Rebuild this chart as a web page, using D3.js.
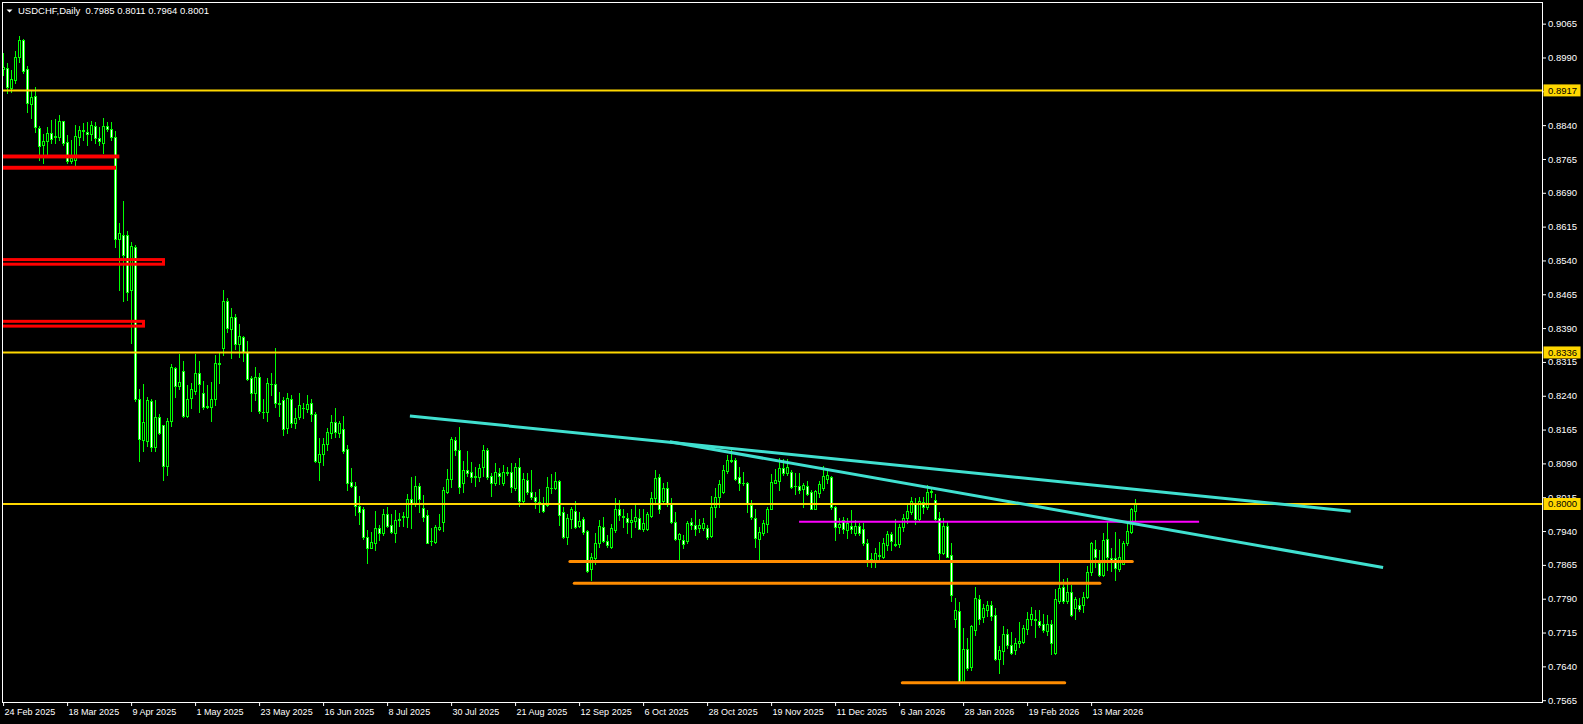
<!DOCTYPE html>
<html><head><meta charset="utf-8">
<script src="https://cdn.jsdelivr.net/npm/d3@7"></script>
<style>
html,body{margin:0;padding:0;background:#000;overflow:hidden}
svg{display:block}
text{font-family:"Liberation Sans",Arial,sans-serif;font-size:9px}
</style></head><body>
<svg id="c" width="1583" height="724"></svg>
<script>
// ---------- DATA ----------
const symbolTitle = "USDCHF,Daily";
const lastOHLC = ["0.7985", "0.8011", "0.7964", "0.8001"];

const open = [0.8965,0.8967,0.8923,0.8939,0.8991,0.9029,0.8964,0.8887,0.8905,0.8833,
0.8795,0.8804,0.8822,0.8813,0.8813,0.8849,0.8802,0.8761,0.8763,0.8814,
0.8829,0.8825,0.8820,0.8838,0.8812,0.8800,0.8838,0.8832,0.8814,0.8587,
0.8597,0.8597,0.8475,0.8569,0.8233,0.8142,0.8140,0.8228,0.8127,0.8192,
0.8175,0.8085,0.8183,0.8301,0.8262,0.8294,0.8194,0.8234,0.8251,0.8290,
0.8246,0.8217,0.8214,0.8232,0.8312,0.8345,0.8449,0.8387,0.8414,0.8354,
0.8371,0.8338,0.8279,0.8247,0.8282,0.8205,0.8205,0.8266,0.8266,0.8223,
0.8231,0.8168,0.8232,0.8179,0.8192,0.8213,0.8211,0.8223,0.8200,0.8094,
0.8111,0.8132,0.8157,0.8181,0.8158,0.8166,0.8121,0.8049,0.8041,0.7996,
0.7988,0.7926,0.7903,0.7914,0.7946,0.7935,0.7977,0.7953,0.7935,0.7965,
0.7972,0.7972,0.8010,0.8002,0.8040,0.7992,0.7976,0.7918,0.7916,0.7945,
0.7959,0.8027,0.8055,0.8142,0.8120,0.8047,0.8075,0.8070,0.8061,0.8059,
0.8083,0.8120,0.8062,0.8047,0.8069,0.8046,0.8071,0.8072,0.8035,0.8081,
0.8007,0.8053,0.8027,0.8016,0.8005,0.8000,0.7997,0.8036,0.8035,0.8051,
0.7983,0.7926,0.7966,0.7985,0.7951,0.7966,0.7940,0.7855,0.7881,0.7914,
0.7948,0.7919,0.7905,0.7942,0.7990,0.7974,0.7970,0.7959,0.7963,0.7970,
0.7944,0.7944,0.7973,0.8013,0.8059,0.8007,0.8035,0.8003,0.7959,0.7922,
0.7920,0.7919,0.7959,0.7953,0.7947,0.7947,0.7946,0.7929,0.7994,0.8015,
0.8027,0.8074,0.8096,0.8098,0.8059,0.8047,0.8046,0.7998,0.7970,0.7922,
0.7935,0.7956,0.7990,0.8047,0.8052,0.8079,0.8069,0.8070,0.8041,0.8040,
0.8033,0.8040,0.8027,0.7990,0.8025,0.8035,0.8055,0.8059,0.7993,0.7948,
0.7965,0.7942,0.7951,0.7935,0.7951,0.7944,0.7913,0.7879,0.7876,0.7884,
0.7883,0.7909,0.7933,0.7912,0.7911,0.7950,0.7968,0.7983,0.8003,0.7967,
0.8004,0.7993,0.8028,0.8009,0.7968,0.7891,0.7951,0.7886,0.7746,0.7763,
0.7606,0.7678,0.7638,0.7721,0.7789,0.7749,0.7765,0.7776,0.7754,0.7656,
0.7675,0.7712,0.7687,0.7676,0.7691,0.7695,0.7722,0.7744,0.7744,0.7741,
0.7734,0.7719,0.7735,0.7669,0.7786,0.7815,0.7786,0.7804,0.7769,0.7776,
0.7776,0.7793,0.7850,0.7900,0.7870,0.7843,0.7922,0.7880,0.7880,0.7855,
0.7868,0.7913,0.7939,0.7985];

const high = [0.9000,0.8978,0.8963,0.9005,0.9037,0.9030,0.8970,0.8915,0.8925,0.8838,
0.8821,0.8835,0.8852,0.8854,0.8863,0.8850,0.8818,0.8807,0.8840,0.8838,
0.8844,0.8848,0.8850,0.8846,0.8835,0.8855,0.8846,0.8847,0.8827,0.8624,
0.8672,0.8606,0.8581,0.8574,0.8255,0.8266,0.8238,0.8233,0.8231,0.8199,
0.8176,0.8190,0.8310,0.8303,0.8333,0.8317,0.8264,0.8268,0.8333,0.8317,
0.8273,0.8264,0.8271,0.8330,0.8338,0.8475,0.8456,0.8434,0.8421,0.8399,
0.8372,0.8362,0.8284,0.8303,0.8290,0.8233,0.8279,0.8290,0.8345,0.8248,
0.8237,0.8246,0.8242,0.8212,0.8246,0.8223,0.8242,0.8233,0.8203,0.8146,
0.8146,0.8169,0.8197,0.8212,0.8183,0.8194,0.8131,0.8079,0.8049,0.8018,
0.7994,0.7942,0.7939,0.7984,0.7953,0.7989,0.7993,0.7978,0.7987,0.7979,
0.7983,0.8022,0.8059,0.8062,0.8046,0.8020,0.7987,0.7946,0.7953,0.7978,
0.8037,0.8077,0.8149,0.8149,0.8171,0.8095,0.8118,0.8093,0.8083,0.8089,
0.8131,0.8124,0.8069,0.8092,0.8079,0.8087,0.8083,0.8090,0.8092,0.8101,
0.8068,0.8069,0.8075,0.8027,0.8033,0.8015,0.8059,0.8067,0.8071,0.8053,
0.7994,0.7978,0.7994,0.8007,0.7983,0.7971,0.7942,0.7891,0.7935,0.7965,
0.7971,0.7931,0.7956,0.8013,0.8009,0.7990,0.7979,0.7989,0.7998,0.7990,
0.7990,0.7983,0.8027,0.8075,0.8067,0.8046,0.8049,0.8013,0.7983,0.7935,
0.7931,0.7962,0.7970,0.7987,0.7966,0.7970,0.7953,0.8018,0.8035,0.8053,
0.8087,0.8109,0.8124,0.8101,0.8083,0.8072,0.8049,0.8009,0.7990,0.7948,
0.7965,0.7994,0.8067,0.8077,0.8101,0.8099,0.8099,0.8075,0.8068,0.8069,
0.8046,0.8051,0.8031,0.8031,0.8051,0.8084,0.8075,0.8062,0.7996,0.7968,
0.7971,0.7968,0.7987,0.7965,0.7957,0.7957,0.7922,0.7891,0.7902,0.7916,
0.7924,0.7940,0.7939,0.7966,0.7956,0.7978,0.7998,0.8015,0.8013,0.8015,
0.8016,0.8042,0.8037,0.8022,0.7983,0.7968,0.7959,0.7913,0.7791,0.7783,
0.7724,0.7702,0.7732,0.7815,0.7798,0.7778,0.7785,0.7785,0.7769,0.7685,
0.7729,0.7722,0.7717,0.7702,0.7739,0.7732,0.7761,0.7772,0.7765,0.7765,
0.7756,0.7754,0.7743,0.7811,0.7870,0.7833,0.7835,0.7820,0.7793,0.7791,
0.7805,0.7862,0.7916,0.7920,0.7898,0.7936,0.7961,0.7902,0.7939,0.7922,
0.7919,0.7957,0.7992,0.8011];

const low = [0.8952,0.8911,0.8914,0.8933,0.8981,0.8956,0.8870,0.8855,0.8824,0.8763,
0.8756,0.8774,0.8800,0.8801,0.8807,0.8795,0.8757,0.8757,0.8752,0.8796,
0.8807,0.8796,0.8807,0.8801,0.8796,0.8779,0.8826,0.8807,0.8570,0.8475,
0.8449,0.8452,0.8357,0.8229,0.8095,0.8118,0.8129,0.8118,0.8118,0.8155,
0.8053,0.8064,0.8174,0.8237,0.8254,0.8192,0.8192,0.8212,0.8244,0.8203,
0.8210,0.8212,0.8183,0.8220,0.8268,0.8330,0.8382,0.8323,0.8343,0.8325,
0.8316,0.8275,0.8207,0.8231,0.8201,0.8191,0.8184,0.8242,0.8216,0.8195,
0.8153,0.8157,0.8171,0.8169,0.8189,0.8190,0.8205,0.8183,0.8094,0.8053,
0.8087,0.8120,0.8146,0.8149,0.8149,0.8112,0.8031,0.8037,0.7976,0.7956,
0.7922,0.7870,0.7902,0.7898,0.7920,0.7931,0.7950,0.7935,0.7916,0.7951,
0.7951,0.7948,0.7946,0.7996,0.7983,0.7963,0.7913,0.7908,0.7913,0.7942,
0.7941,0.8025,0.8037,0.8109,0.8025,0.8027,0.8062,0.8049,0.8040,0.8051,
0.8062,0.8055,0.8018,0.8042,0.8044,0.8042,0.8064,0.8027,0.8030,0.7996,
0.8003,0.8022,0.8010,0.7992,0.7983,0.7982,0.7996,0.8025,0.8033,0.7953,
0.7924,0.7911,0.7946,0.7946,0.7948,0.7933,0.7850,0.7831,0.7868,0.7905,
0.7916,0.7905,0.7902,0.7939,0.7965,0.7950,0.7936,0.7926,0.7948,0.7944,
0.7941,0.7942,0.7971,0.8005,0.7981,0.8003,0.7996,0.7957,0.7920,0.7876,
0.7902,0.7913,0.7944,0.7931,0.7939,0.7942,0.7922,0.7926,0.7972,0.7993,
0.8025,0.8068,0.8094,0.8053,0.8030,0.8042,0.7983,0.7966,0.7905,0.7876,
0.7931,0.7939,0.7988,0.8046,0.8031,0.8064,0.8064,0.8035,0.8022,0.8025,
0.7994,0.8020,0.7988,0.7988,0.8016,0.8031,0.8046,0.7990,0.7920,0.7936,
0.7935,0.7924,0.7935,0.7931,0.7931,0.7909,0.7862,0.7860,0.7860,0.7872,
0.7880,0.7898,0.7898,0.7907,0.7904,0.7941,0.7957,0.7978,0.7955,0.7963,
0.7981,0.7990,0.8015,0.7965,0.7876,0.7889,0.7882,0.7786,0.7728,0.7605,
0.7605,0.7633,0.7633,0.7709,0.7735,0.7739,0.7752,0.7743,0.7654,0.7626,
0.7645,0.7680,0.7667,0.7667,0.7682,0.7692,0.7712,0.7732,0.7706,0.7728,
0.7717,0.7709,0.7667,0.7667,0.7780,0.7780,0.7781,0.7752,0.7745,0.7763,
0.7761,0.7791,0.7843,0.7861,0.7840,0.7840,0.7854,0.7852,0.7831,0.7852,
0.7867,0.7909,0.7936,0.7964];

const close = [0.8968,0.8924,0.8942,0.8991,0.9029,0.8961,0.8890,0.8902,0.8836,0.8794,
0.8805,0.8822,0.8810,0.8815,0.8849,0.8801,0.8761,0.8767,0.8816,0.8830,
0.8827,0.8820,0.8841,0.8812,0.8805,0.8838,0.8831,0.8814,0.8587,0.8600,
0.8552,0.8471,0.8571,0.8232,0.8144,0.8181,0.8231,0.8126,0.8192,0.8158,
0.8085,0.8183,0.8303,0.8262,0.8271,0.8194,0.8232,0.8254,0.8290,0.8265,
0.8216,0.8216,0.8232,0.8312,0.8311,0.8449,0.8390,0.8415,0.8354,0.8373,
0.8338,0.8277,0.8246,0.8282,0.8207,0.8203,0.8268,0.8265,0.8223,0.8221,
0.8166,0.8234,0.8179,0.8191,0.8220,0.8212,0.8221,0.8199,0.8096,0.8111,
0.8133,0.8159,0.8181,0.8160,0.8179,0.8118,0.8047,0.8040,0.7996,0.7983,
0.7926,0.7903,0.7915,0.7946,0.7936,0.7977,0.7951,0.7937,0.7965,0.7967,
0.7974,0.8010,0.8002,0.8040,0.8012,0.7972,0.7914,0.7917,0.7948,0.7950,
0.8031,0.8055,0.8144,0.8120,0.8038,0.8075,0.8069,0.8059,0.8059,0.8079,
0.8120,0.8059,0.8047,0.8070,0.8062,0.8072,0.8069,0.8037,0.8081,0.8007,
0.8055,0.8027,0.8016,0.8007,0.8004,0.7985,0.8038,0.8035,0.8051,0.7976,
0.7926,0.7968,0.7989,0.7950,0.7962,0.7939,0.7852,0.7882,0.7914,0.7951,
0.7919,0.7908,0.7946,0.7990,0.7976,0.7972,0.7959,0.7965,0.7972,0.7945,
0.7957,0.7978,0.8013,0.8057,0.7990,0.8035,0.8003,0.7961,0.7922,0.7933,
0.7911,0.7957,0.7953,0.7945,0.7953,0.7957,0.7927,0.7993,0.8015,0.8044,
0.8075,0.8098,0.8098,0.8055,0.8047,0.8046,0.8002,0.7972,0.7924,0.7937,
0.7957,0.7990,0.8048,0.8053,0.8079,0.8068,0.8081,0.8038,0.8039,0.8031,
0.8042,0.8022,0.7990,0.8029,0.8044,0.8061,0.8064,0.7993,0.7948,0.7956,
0.7944,0.7957,0.7944,0.7951,0.7936,0.7913,0.7876,0.7877,0.7891,0.7886,
0.7913,0.7933,0.7919,0.7910,0.7950,0.7970,0.7984,0.8007,0.7966,0.8007,
0.7994,0.8027,0.8026,0.7967,0.7892,0.7951,0.7883,0.7799,0.7765,0.7606,
0.7678,0.7636,0.7729,0.7791,0.7746,0.7769,0.7775,0.7752,0.7656,0.7676,
0.7712,0.7687,0.7669,0.7691,0.7696,0.7724,0.7744,0.7756,0.7742,0.7732,
0.7721,0.7735,0.7691,0.7789,0.7813,0.7786,0.7804,0.7754,0.7789,0.7767,
0.7793,0.7850,0.7914,0.7882,0.7843,0.7920,0.7882,0.7876,0.7857,0.7883,
0.7913,0.7940,0.7988,0.8001];

// x-axis labels: bar index of each label and its text
const xTickIndex = [0,16,32,48,64,80,96,112,128,144,160,176,192,208,224,240,256,272];
const xTickLabels = ["24 Feb 2025","18 Mar 2025","9 Apr 2025","1 May 2025","23 May 2025",
  "16 Jun 2025","8 Jul 2025","30 Jul 2025","21 Aug 2025","12 Sep 2025","6 Oct 2025",
  "28 Oct 2025","19 Nov 2025","11 Dec 2025","6 Jan 2026","28 Jan 2026","19 Feb 2026","13 Mar 2026"];

// price axis ticks
const yTicks = [0.7565,0.7640,0.7715,0.7790,0.7865,0.7940,0.8015,0.8090,0.8165,0.8240,
  0.8315,0.8390,0.8465,0.8540,0.8615,0.8690,0.8765,0.8840,0.8915,0.8990,0.9065];

// horizontal support / resistance levels (yellow)
const hLevels = [0.8917, 0.8336, 0.8000];

// red zones: top price, bottom price, end bar index
const zoneTop    = [0.87715, 0.87465, 0.85419, 0.84050];
const zoneBottom = [0.87695, 0.87445, 0.85317, 0.83944];
const zoneEnd    = [28.7, 27.85, 40.1, 35.1];

// trend lines (cyan): start idx, start price, end idx, end price
const trendStartIdx   = [101.7, 166.7];
const trendStartPrice = [0.81952, 0.81379];
const trendEndIdx     = [336.9, 345.0];
const trendEndPrice   = [0.79840, 0.78590];

// magenta level
const magentaLevel = 0.79607, magentaFrom = 199, magentaTo = 299;

// orange levels
const orangeLevel = [0.78725, 0.78241, 0.76035];
const orangeFrom  = [141.7, 142.8, 224.8];
const orangeTo    = [282.3, 274.2, 265.4];

// ---------- DRAW ----------
const svg = d3.select("#c");
const W = 1583, H = 724;
const plot = {left: 2, right: 1542, top: 2, bottom: 702};
svg.append("rect").attr("width", W).attr("height", H).attr("fill", "#000");

const x = d3.scaleLinear().domain([-0.275, 384.725]).range([plot.left, plot.right]);
const y = d3.scaleLinear().domain([0.7561, 0.9113]).range([plot.bottom, plot.top]);

svg.append("clipPath").attr("id", "clip").append("rect")
  .attr("x", plot.left + 1).attr("y", plot.top + 1)
  .attr("width", plot.right - plot.left - 1).attr("height", plot.bottom - plot.top - 1);

const g = svg.append("g").attr("clip-path", "url(#clip)");

const bars = open.map((o, i) => ({i, o, h: high[i], l: low[i], c: close[i]}));
const green = "#00ff00";
const cg = g.append("g").attr("shape-rendering", "crispEdges");
const px = d => Math.floor(x(d)) + 0.5;

// wicks
cg.selectAll("line.wick").data(bars).join("line").attr("class", "wick")
  .attr("x1", d => px(d.i)).attr("x2", d => px(d.i))
  .attr("y1", d => Math.round(y(d.h))).attr("y2", d => Math.round(y(d.l)) + 1)
  .attr("stroke", green).attr("stroke-width", 1);

// bodies
bars.forEach(d => {
  const top = Math.round(y(Math.max(d.o, d.c)));
  const bot = Math.round(y(Math.min(d.o, d.c)));
  const cx = px(d.i);
  if (bot - top < 1) {
    cg.append("line").attr("x1", cx - 1.5).attr("x2", cx + 1.5)
      .attr("y1", top + 0.5).attr("y2", top + 0.5)
      .attr("stroke", green).attr("stroke-width", 1);
  } else {
    cg.append("rect").attr("x", cx - 1).attr("width", 2)
      .attr("y", top + 0.5).attr("height", bot - top)
      .attr("fill", d.c > d.o ? "#000" : "#fff")
      .attr("stroke", green).attr("stroke-width", 1);
  }
});

// yellow horizontal levels
g.selectAll("line.hl").data(hLevels).join("line").attr("class", "hl")
  .attr("x1", plot.left).attr("x2", plot.right)
  .attr("y1", d => y(d)).attr("y2", d => y(d))
  .attr("stroke", "#ffd700").attr("stroke-width", 2);

// red zones
g.selectAll("rect.zone").data(zoneTop).join("rect").attr("class", "zone")
  .attr("x", x(-5)).attr("y", (d) => y(d))
  .attr("width", (d, i) => x(zoneEnd[i]) - x(-5))
  .attr("height", (d, i) => y(zoneBottom[i]) - y(d))
  .attr("fill", "none").attr("stroke", "#ff0000").attr("stroke-width", 3);

// magenta
g.append("line").attr("x1", x(magentaFrom)).attr("x2", x(magentaTo))
  .attr("y1", y(magentaLevel)).attr("y2", y(magentaLevel))
  .attr("stroke", "#ff00ff").attr("stroke-width", 2);

// orange
g.selectAll("line.or").data(orangeLevel).join("line").attr("class", "or")
  .attr("x1", (d, i) => x(orangeFrom[i])).attr("x2", (d, i) => x(orangeTo[i]))
  .attr("y1", d => y(d)).attr("y2", d => y(d))
  .attr("stroke", "#ff8c00").attr("stroke-width", 3).attr("stroke-linecap", "round");

// cyan trend lines
g.selectAll("line.tr").data(trendStartIdx).join("line").attr("class", "tr")
  .attr("x1", d => x(d)).attr("y1", (d, i) => y(trendStartPrice[i]))
  .attr("x2", (d, i) => x(trendEndIdx[i])).attr("y2", (d, i) => y(trendEndPrice[i]))
  .attr("stroke", "#40e0d0").attr("stroke-width", 3);

// frame
const fr = svg.append("g").attr("stroke", "#fff").attr("stroke-width", 1).attr("shape-rendering", "crispEdges");
fr.append("line").attr("x1", plot.left + 0.5).attr("x2", plot.left + 0.5).attr("y1", plot.top).attr("y2", plot.bottom + 1);
fr.append("line").attr("x1", plot.left).attr("x2", plot.right + 1).attr("y1", plot.top + 0.5).attr("y2", plot.top + 0.5);
fr.append("line").attr("x1", plot.right + 0.5).attr("x2", plot.right + 0.5).attr("y1", plot.top).attr("y2", plot.bottom + 1);
fr.append("line").attr("x1", plot.left).attr("x2", plot.right + 1).attr("y1", plot.bottom + 0.5).attr("y2", plot.bottom + 0.5);

// right price axis
const ya = svg.append("g").attr("transform", `translate(${plot.right},0)`)
  .call(d3.axisRight(y).tickValues(yTicks).tickSize(4).tickPadding(2).tickFormat(d3.format(".4f")));
ya.select(".domain").remove();
ya.selectAll("line").attr("stroke", "#fff");
ya.selectAll("text").attr("fill", "#fff").style("font-size", "9.5px");

// bottom time axis
const xa = svg.append("g").attr("transform", `translate(0,${plot.bottom})`)
  .call(d3.axisBottom(x).tickValues(xTickIndex).tickSize(4).tickFormat((d, i) => xTickLabels[i]));
xa.select(".domain").remove();
xa.selectAll("line").attr("stroke", "#fff");
xa.selectAll("text").attr("fill", "#fff").attr("text-anchor", "start").attr("x", 1).attr("y", 7);

// price boxes for yellow levels
const pb = svg.append("g");
hLevels.forEach(v => {
  pb.append("rect").attr("x", plot.right + 1.5).attr("y", y(v) - 6).attr("width", 37).attr("height", 12)
    .attr("fill", "#ffd700");
  pb.append("text").attr("x", plot.right + 6).attr("y", y(v)).attr("dy", "0.35em")
    .attr("fill", "#000").style("font-size", "9.5px").text(d3.format(".4f")(v));
});

// title
svg.append("path").attr("d", "M6.5,9.5 L12.5,9.5 L9.5,12.5 Z").attr("fill", "#fff");
svg.append("text").attr("x", 18).attr("y", 14).attr("fill", "#fff")
  .style("font-size", "9.5px").style("white-space", "pre")
  .text(symbolTitle + "  " + lastOHLC.join(" "));
</script>
</body></html>
